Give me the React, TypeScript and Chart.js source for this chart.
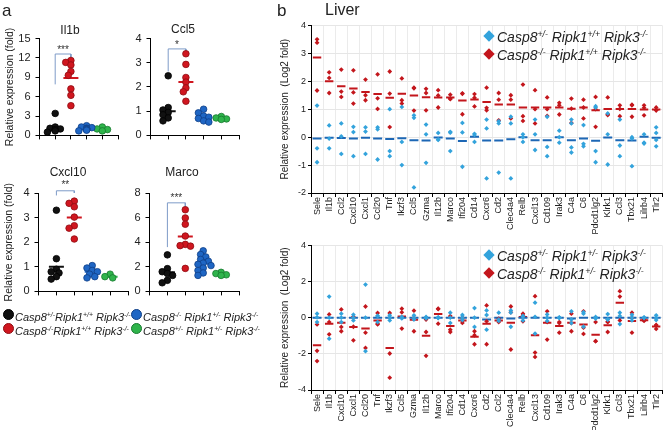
import React, { useEffect, useRef } from 'react';
import { Chart, registerables } from 'chart.js';
Chart.register(...registerables);

const FONT = "'Liberation Sans', Arial, Helvetica, sans-serif";

// ---------- Panel a data ----------
const il1bBlack = [3.4, 1.3, 1.1, 1.0, 0.9, 0.7, 0.5];
const il1bRed = [11.6, 11.3, 10.9, 9.9, 9.3, 7.2, 6.2, 4.6];
const il1bBlue = [1.5, 1.3, 1.2, 1.1, 1.0, 1.0, 0.9, 0.8, 0.7];
const il1bGreen = [1.3, 1.0, 0.9, 0.7];
const il1bMeans = [1.0, 8.9, 1.1, 0.9];
const il1bBracket = [7.9, 12.6, 11.6];

const ccl5Black = [2.46, 1.15, 1.05, 0.95, 0.85, 0.72, 0.6];
const ccl5Red = [3.37, 2.93, 2.39, 2.2, 1.96, 1.8, 1.41];
const ccl5Blue = [1.08, 0.93, 0.8, 0.75, 0.7, 0.6, 0.55];
const ccl5Green = [0.78, 0.72, 0.68, 0.66];
const ccl5Means = [1.0, 2.2, 0.77, 0.7];
const ccl5Bracket = [2.64, 3.57, 3.46];

const cxcl10Black = [3.3, 1.33, 0.9, 0.8, 0.75, 0.6, 0.5];
const cxcl10Red = [3.67, 3.58, 3.44, 3.02, 2.67, 2.57, 2.13];
const cxcl10Blue = [1.05, 0.95, 0.85, 0.8, 0.7, 0.6, 0.55];
const cxcl10Green = [0.7, 0.6, 0.55];
const cxcl10Means = [1.0, 3.0, 0.8, 0.6];
const cxcl10Bracket = [3.9, 4.09, 4.0];

const marcoBlack = [2.97, 1.85, 1.6, 1.45, 1.3, 0.9, 0.7];
const marcoRed = [6.64, 5.97, 5.46, 4.5, 3.82, 3.72, 3.68, 1.87];
const marcoBlue = [3.3, 3.0, 2.8, 2.6, 2.45, 2.3, 2.2, 2.1, 1.9, 1.7, 1.5, 1.3];
const marcoGreen = [1.55, 1.45, 1.35, 1.3];
const marcoMeans = [1.55, 4.46, 2.3, 1.4];
const marcoBracket = [3.6, 7.2, 6.8];

const legendA = [
  ['Casp8', '+/-', 'Ripk1', '+/+', ' Ripk3', '-/-'],
  ['Casp8', '-/-', 'Ripk1', '+/+', ' Ripk3', '-/-'],
  ['Casp8', '-/-', ' Ripk1', '+/-', ' Ripk3', '-/-'],
  ['Casp8', '+/-', ' Ripk1', '+/-', ' Ripk3', '-/-'],
];

// ---------- Panel b data ----------
const liverCats1 = ['Sele', 'Il1b', 'Ccl2', 'Cxcl10', 'Cxcl1', 'Ccl20', 'Tnf', 'Ikzf3', 'Ccl5', 'Gzma', 'Il12b', 'Marco', 'Ifi204', 'Cd14', 'Cxcr6', 'Cd2', 'Clec4a4', 'Relb', 'Cxcl13', 'Cd109', 'Irak3', 'C4a', 'C6', 'Pdcd1lg2', 'Klrk1', 'Ccl3', 'Tbx21', 'Lilrb4', 'Tlr2'];
const liver1Red = [
  [3.5, 3.38, 1.67], [2.32, 2.12, 1.58], [2.42, 1.63, 1.44], [2.39, 1.6, 1.2], [2.06, 1.5, 1.32],
  [2.25, 1.39, 1.01], [2.35, 1.56, 0.36], [2.1, 1.32, 1.2], [1.77, 1.75, 0.95], [1.73, 1.58, 0.96],
  [1.68, 1.49, 1.06], [1.52, 1.38, 1.36], [1.57, 1.55, 0.82], [1.54, 1.41, 1.1], [1.77, 1.05, 0.96],
  [1.58, 1.34, 0.6], [1.5, 1.34, 0.67], [1.88, 0.75, 0.58], [1.68, 1.0, 0.49], [1.42, 1.0, 0.76],
  [1.23, 1.14, 0.81], [1.38, 1.02, 0.51], [1.34, 1.06, 0.67], [1.44, 1.0, 0.37], [1.42, 0.82, 0.79],
  [1.14, 1.01, 0.75], [1.16, 1.14, 0.73], [1.14, 1.05, 0.78], [1.06, 0.96, 0.96],
];
const liver1RedMean = [2.85, 2.0, 1.82, 1.74, 1.62, 1.54, 1.41, 1.55, 1.49, 1.43, 1.42, 1.42, 1.31, 1.35, 1.26, 1.17, 1.17, 1.06, 1.06, 1.06, 1.06, 1.02, 1.06, 0.96, 1.01, 1.01, 1.01, 0.99, 0.99];
const liver1Blue = [
  [1.13, -0.4, -0.9], [0.42, -0.05, -0.4], [0.49, 0.03, -0.6], [0.37, 0.18, -0.68], [0.35, 0.2, -0.6],
  [0.35, 0.28, -0.8], [1.0, -0.5, -0.68], [1.08, -0.17, -1.0], [0.78, 0.69, -1.8], [0.45, 0.1, -0.92],
  [0.15, -0.08, -0.1], [0.19, 0.16, -0.5], [0.51, 0.17, -1.06], [0.12, 0.08, -0.17], [0.63, 0.31, -1.48],
  [0.57, 0.49, -1.27], [0.73, 0.49, -1.48], [0.1, 0.0, -0.17], [0.63, 0.1, -0.46], [0.73, -0.35, -0.68],
  [0.23, 0.0, -0.2], [0.63, 0.49, -0.37, -0.55], [0.43, -0.24, -0.33], [1.11, 1.06, -0.5, -0.9], [0.85, 0.1, -0.98],
  [0.63, -0.3, -0.68], [0.0, -0.05, -1.04], [0.1, -0.2, -0.23], [0.35, 0.15, -0.1, -0.33],
];
const liver1BlueMean = [-0.05, -0.02, -0.03, -0.05, -0.02, -0.05, -0.07, -0.04, -0.11, -0.12, -0.01, -0.05, -0.14, 0.01, -0.12, -0.12, -0.08, 0.0, -0.11, -0.11, 0.0, -0.11, -0.05, -0.13, -0.01, -0.11, -0.12, 0.01, -0.02];

const liverCats2 = ['Sele', 'Il1b', 'Cxcl10', 'Cxcl1', 'Ccl20', 'Tnf', 'Ikzf3', 'Ccl5', 'Gzma', 'Il12b', 'Marco', 'Ifi204', 'Cd14', 'Cxcr6', 'Cd2', 'Ccl2', 'Clec4a4', 'Relb', 'Cxcl13', 'Cd109', 'Irak3', 'C4a', 'C6', 'Pdcd1lg2', 'Klrk1', 'Ccl3', 'Tbx21', 'Lilrb4', 'Tlr2'];
const liver2Red = [
  [-0.37, -1.83, -2.4], [0.18, -0.24, -0.92], [0.46, -0.51, -0.75], [0.05, -0.5, -1.25], [0.62, -0.83, -1.67],
  [0.26, -0.37, -0.33], [0.26, -1.98, -3.32], [0.5, 0.3, -0.6], [0.39, -0.75, 0.0], [-0.1, -0.79, -2.11],
  [0.5, 0.48, -0.33], [0.09, -0.66, -0.79], [0.0, -0.15, -0.29], [-0.75, -0.97, -1.47], [0.68, -0.2, -1.47],
  [-0.15, -0.24, -0.05], [0.62, 0.3, -1.76], [0.22, 0.13, -0.2], [1.19, -1.93, -2.17], [0.35, -0.24, -1.21],
  [-0.24, -0.83, -0.3], [0.22, -0.3, -0.75], [0.35, -0.55, -0.9], [-0.24, -1.3, -1.3], [-0.24, -0.79, -0.22],
  [1.47, 1.17, -0.15], [0.28, -0.83, 0.0], [-0.1, -0.18, -0.05], [-0.42, -0.62, -0.4],
];
const liver2RedMean = [-1.52, -0.33, -0.28, -0.52, -0.6, -0.15, -1.67, 0.07, -0.11, -1.0, 0.2, -0.46, -0.15, -1.06, -0.33, -0.15, -0.28, 0.04, -0.97, -0.28, -0.46, -0.28, -0.37, -0.94, -0.42, 0.83, -0.18, -0.14, -0.48];
const liver2Blue = [
  [0.22, 0.02, -0.24], [1.17, 0.0, -1.16], [0.22, 0.0, -0.24], [0.17, 0.0, -0.15], [1.83, 0.0, -1.85],
  [0.1, 0.1, -0.24], [0.13, 0.02, -0.15], [0.04, 0.0, -0.04], [0.13, 0.0, -0.1], [0.04, 0.0, -0.04],
  [0.02, 0.0, -0.02], [0.28, 0.0, -0.29], [0.15, 0.0, -0.13], [0.53, 0.0, -0.51], [0.4, 0.15, -0.66],
  [0.28, -0.1, -0.18], [0.4, 0.28, -0.5], [0.1, 0.05, -0.15], [0.83, 0.05, -0.88], [0.18, 0.0, -0.18],
  [0.02, 0.0, -0.02], [0.35, -0.1, -0.3], [0.31, 0.22, -0.5], [0.04, -0.05, 0.0], [0.2, -0.1, -0.1],
  [0.28, 0.1, -0.35], [0.16, 0.0, -0.15], [0.02, 0.0, -0.02], [0.13, 0.0, -0.13],
];
const liver2BlueMean = [0, 0, 0, 0, 0, 0, 0, 0, 0, 0, 0, 0, 0, 0, -0.1, 0, -0.05, 0, 0, 0, 0, -0.05, 0, 0, 0, 0, 0, 0, 0];

const legendB1 = [
  ['Casp8', '+/-', ' Ripk1', '+/+', ' Ripk3', '-/-'],
  ['Casp8', '-/-', ' Ripk1', '+/+', ' Ripk3', '-/-'],
];
const legendB2 = [
  ['Casp8', '+/-', ' Ripk1', '+/-', ' Ripk3', '-/-'],
  ['Casp8', '-/-', ' Ripk1', '+/-', ' Ripk3', '-/-'],
];

// ---------- styles ----------
const A_FILL = ['#111111', '#d0161f', '#1f66c4', '#2fb44b'];
const A_EDGE = ['#000000', '#8e0d12', '#0f3f86', '#17792f'];
const B_BLUE = '#33a3dc';
const B_BLUE_MEAN = '#1d67b5';
const B_RED = '#c3161c';

type Rect = { L: number; T: number; W: number; H: number };
type Plot = { l: number; t: number; r: number; b: number };

function padFor(box: Rect, plot: Plot, yW: number, xH: number) {
  return {
    left: plot.l - box.L - yW,
    top: plot.t - box.T,
    right: box.L + box.W - plot.r,
    bottom: box.T + box.H - plot.b - xH,
  };
}

// beeswarm layout in pixel space (layout only, values untouched)
function swarm(vals: number[], pxPerY: number, pxPerX: number): number[] {
  const D = 4.6;
  const placed: { y: number; x: number }[] = [];
  const cands = [0, -2.6, 2.6, -5.2, 5.2, -7.8, 7.8];
  return vals.map((v) => {
    const y = v * pxPerY;
    for (const c of cands) {
      if (!placed.some((p) => Math.hypot(p.x - c, p.y - y) < D)) {
        placed.push({ x: c, y });
        return c / pxPerX;
      }
    }
    placed.push({ x: 0, y });
    return 0;
  });
}

type DotSpec = {
  box: Rect;
  plot: Plot;
  yMax: number;
  yStep: number;
  groups: number[][];
  means: number[];
  bracket: number[];
  stars: string;
  starY: number;
  yTitle: boolean;
};

function makeDot(canvas: HTMLCanvasElement, s: DotSpec) {
  const yW = 38;
  const xH = 6;
  const pxPerY = (s.plot.b - s.plot.t) / s.yMax;
  const pxPerX = (s.plot.r - s.plot.l) / 5;
  const datasets: any[] = [];
  s.groups.forEach((g, gi) => {
    const offs = swarm(g, pxPerY, pxPerX);
    datasets.push({
      data: g.map((v, i) => ({ x: gi + 1 + offs[i], y: v })),
      backgroundColor: A_FILL[gi],
      borderColor: A_EDGE[gi],
      borderWidth: 0.8,
      pointRadius: 3.3,
      showLine: false,
    });
  });
  s.means.forEach((m, gi) => {
    datasets.push({
      data: [{ x: gi + 1, y: m }],
      pointStyle: 'line',
      pointRadius: 7.5,
      borderWidth: 2,
      borderColor: A_FILL[gi],
      showLine: false,
    });
  });
  datasets.push({
    data: [
      { x: 1, y: s.bracket[0] },
      { x: 1, y: s.bracket[1] },
      { x: 2, y: s.bracket[1] },
      { x: 2, y: s.bracket[2] },
    ],
    showLine: true,
    borderColor: '#7e9bc8',
    borderWidth: 1,
    pointRadius: 0,
    clip: false,
  });
  const starPlugin = {
    id: 'stars',
    afterDatasetsDraw(chart: any) {
      const { ctx, scales } = chart;
      ctx.save();
      ctx.font = `10px ${FONT}`;
      ctx.fillStyle = '#333';
      ctx.textAlign = 'center';
      ctx.textBaseline = 'middle';
      ctx.fillText(s.stars, scales.x.getPixelForValue(1.5), scales.y.getPixelForValue(s.starY));
      ctx.restore();
    },
  };
  return new Chart(canvas, {
    type: 'scatter',
    data: { datasets },
    plugins: [starPlugin],
    options: {
      animation: false,
      responsive: false,
      devicePixelRatio: 1,
      layout: { padding: padFor(s.box, s.plot, yW, xH), autoPadding: false },
      plugins: { legend: { display: false }, tooltip: { enabled: false } },
      scales: {
        x: {
          type: 'linear',
          min: 0,
          max: 5,
          afterFit: (sc: any) => { sc.height = xH; },
          ticks: { stepSize: 1, callback: () => '', padding: 0 },
          grid: { drawOnChartArea: false, drawTicks: true, tickLength: 4, tickColor: '#000' },
          border: { display: true, color: '#000', width: 1 },
        },
        y: {
          min: 0,
          max: s.yMax,
          afterFit: (sc: any) => { sc.width = yW; },
          ticks: { stepSize: s.yStep, color: '#222', font: { family: FONT, size: 11 }, padding: 5 },
          grid: { drawOnChartArea: false, drawTicks: true, tickLength: 4, tickColor: '#000' },
          border: { display: true, color: '#000', width: 1 },
          title: {
            display: s.yTitle,
            text: 'Relative expression (fold)',
            color: '#222',
            font: { family: FONT, size: 10.5 },
            padding: { top: 2, bottom: 0 },
          },
        },
      },
    } as any,
  });
}

type LiverSpec = {
  box: Rect;
  plot: Plot;
  cats: string[];
  red: number[][];
  redMean: number[];
  blue: number[][];
  blueMean: number[];
  yMin: number;
  yMax: number;
  yStep: number;
};

function makeLiver(canvas: HTMLCanvasElement, s: LiverSpec) {
  const yW = s.plot.l - s.box.L;
  const xH = s.box.T + s.box.H - s.plot.b;
  const pts = (arr: number[][]) => s.cats.flatMap((c, i) => arr[i].map((v) => ({ x: c, y: v })));
  const means = (arr: number[]) => s.cats.map((c, i) => ({ x: c, y: arr[i] }));
  return new Chart(canvas, {
    type: 'line',
    data: {
      labels: s.cats,
      datasets: [
        { data: pts(s.blue), showLine: false, pointStyle: 'rectRot', pointRadius: 2.4, backgroundColor: B_BLUE, borderWidth: 0 },
        { data: pts(s.red), showLine: false, pointStyle: 'rectRot', pointRadius: 2.4, backgroundColor: B_RED, borderWidth: 0 },
        { data: means(s.blueMean), showLine: false, pointStyle: 'line', pointRadius: 4.5, borderWidth: 2, borderColor: B_BLUE_MEAN },
        { data: means(s.redMean), showLine: false, pointStyle: 'line', pointRadius: 4.2, borderWidth: 2, borderColor: B_RED },
      ],
    },
    options: {
      animation: false,
      responsive: false,
      devicePixelRatio: 1,
      layout: { padding: padFor(s.box, s.plot, yW, xH), autoPadding: false },
      plugins: { legend: { display: false }, tooltip: { enabled: false } },
      scales: {
        x: {
          type: 'category',
          offset: true,
          afterFit: (sc: any) => { sc.height = xH; },
          ticks: { autoSkip: false, minRotation: 90, maxRotation: 90, color: '#222', font: { family: FONT, size: 9 }, padding: 0 },
          grid: { offset: true, color: '#ebebeb', drawTicks: true, tickLength: 4, tickColor: '#000' },
          border: { display: true, color: '#000', width: 1 },
        },
        y: {
          min: s.yMin,
          max: s.yMax,
          afterFit: (sc: any) => { sc.width = yW; },
          ticks: { stepSize: s.yStep, color: '#222', font: { family: FONT, size: 9 }, padding: 2 },
          grid: { color: '#e6e6e6', drawTicks: true, tickLength: 3, tickColor: '#000' },
          border: { display: true, color: '#000', width: 1 },
          title: {
            display: true,
            text: 'Relative expression  (Log2 fold)',
            color: '#222',
            font: { family: FONT, size: 10 },
            padding: { top: 2, bottom: 0 },
          },
        },
      },
    } as any,
  });
}

function Geno({ parts, size }: { parts: string[]; size: number }) {
  return (
    <span style={{ fontStyle: 'italic', fontSize: size, whiteSpace: 'nowrap' }}>
      {parts.map((p, i) =>
        i % 2 === 0 ? (
          <span key={i}>{p}</span>
        ) : (
          <span key={i} style={{ fontSize: size * 0.62, position: 'relative', top: -size * 0.38 }}>{p}</span>
        )
      )}
    </span>
  );
}

const BOXES = {
  il1b: { L: 0, T: 16, W: 124, H: 131 },
  ccl5: { L: 110, T: 16, W: 135, H: 131 },
  cxcl10: { L: 0, T: 170, W: 134, H: 133 },
  marco: { L: 109, T: 170, W: 136, H: 133 },
  liver1: { L: 277, T: 18, W: 390, H: 218 },
  liver2: { L: 277, T: 238, W: 390, H: 192 },
};

export default function App() {
  const r1 = useRef<HTMLCanvasElement>(null);
  const r2 = useRef<HTMLCanvasElement>(null);
  const r3 = useRef<HTMLCanvasElement>(null);
  const r4 = useRef<HTMLCanvasElement>(null);
  const r5 = useRef<HTMLCanvasElement>(null);
  const r6 = useRef<HTMLCanvasElement>(null);

  useEffect(() => {
    const charts: Chart[] = [];
    charts.push(makeDot(r1.current!, {
      box: BOXES.il1b, plot: { l: 39.5, t: 38.5, r: 118, b: 139 }, yMax: 15, yStep: 3,
      groups: [il1bBlack, il1bRed, il1bBlue, il1bGreen], means: il1bMeans, bracket: il1bBracket,
      stars: '***', starY: 13.2, yTitle: true,
    }));
    charts.push(makeDot(r2.current!, {
      box: BOXES.ccl5, plot: { l: 150.5, t: 38.5, r: 239, b: 139 }, yMax: 4, yStep: 1,
      groups: [ccl5Black, ccl5Red, ccl5Blue, ccl5Green], means: ccl5Means, bracket: ccl5Bracket,
      stars: '*', starY: 3.72, yTitle: false,
    }));
    charts.push(makeDot(r3.current!, {
      box: BOXES.cxcl10, plot: { l: 38.5, t: 193, r: 128, b: 297 }, yMax: 4, yStep: 1,
      groups: [cxcl10Black, cxcl10Red, cxcl10Blue, cxcl10Green], means: cxcl10Means, bracket: cxcl10Bracket,
      stars: '**', starY: 4.3, yTitle: true,
    }));
    charts.push(makeDot(r4.current!, {
      box: BOXES.marco, plot: { l: 149.5, t: 193, r: 239, b: 297 }, yMax: 8, yStep: 2,
      groups: [marcoBlack, marcoRed, marcoBlue, marcoGreen], means: marcoMeans, bracket: marcoBracket,
      stars: '***', starY: 7.6, yTitle: false,
    }));
    charts.push(makeLiver(r5.current!, {
      box: BOXES.liver1, plot: { l: 311, t: 25, r: 665, b: 193 }, cats: liverCats1,
      red: liver1Red, redMean: liver1RedMean, blue: liver1Blue, blueMean: liver1BlueMean,
      yMin: -2, yMax: 4, yStep: 1,
    }));
    charts.push(makeLiver(r6.current!, {
      box: BOXES.liver2, plot: { l: 311, t: 245, r: 665, b: 390 }, cats: liverCats2,
      red: liver2Red, redMean: liver2RedMean, blue: liver2Blue, blueMean: liver2BlueMean,
      yMin: -4, yMax: 4, yStep: 2,
    }));
    return () => charts.forEach((c) => c.destroy());
  }, []);

  const cv = (ref: any, b: Rect) => (
    <canvas ref={ref} width={b.W} height={b.H} style={{ position: 'absolute', left: b.L, top: b.T, width: b.W, height: b.H }} />
  );
  const txt = (x: number, y: number, content: any, style: any = {}) => (
    <div style={{ position: 'absolute', left: x, top: y, lineHeight: 1, whiteSpace: 'nowrap', color: '#222', ...style }}>{content}</div>
  );
  const dot = (x: number, y: number, gi: number) => (
    <div style={{ position: 'absolute', left: x - 5, top: y - 5, width: 9, height: 9, borderRadius: '50%', background: A_FILL[gi], border: `1px solid ${A_EDGE[gi]}` }} />
  );
  const diamond = (x: number, y: number, color: string) => (
    <div style={{ position: 'absolute', left: x - 4, top: y - 4, width: 8, height: 8, background: color, transform: 'rotate(45deg)' }} />
  );

  return (
    <div style={{ position: 'absolute', left: 0, top: 0, width: 667, height: 430, background: '#fff', fontFamily: FONT, overflow: 'hidden' }}>
      {cv(r1, BOXES.il1b)}
      {cv(r2, BOXES.ccl5)}
      {cv(r3, BOXES.cxcl10)}
      {cv(r4, BOXES.marco)}
      {cv(r5, BOXES.liver1)}
      {cv(r6, BOXES.liver2)}

      {txt(2, 2, 'a', { fontSize: 17 })}
      {txt(277, 2, 'b', { fontSize: 17 })}
      {txt(325, 2, 'Liver', { fontSize: 16 })}

      {txt(70, 24, 'Il1b', { fontSize: 12, transform: 'translateX(-50%)' })}
      {txt(183, 23, 'Ccl5', { fontSize: 12, transform: 'translateX(-50%)' })}
      {txt(68, 166, 'Cxcl10', { fontSize: 12, transform: 'translateX(-50%)' })}
      {txt(182, 166, 'Marco', { fontSize: 12, transform: 'translateX(-50%)' })}

      {dot(8, 314, 0)}
      {txt(15, 308, <Geno parts={legendA[0]} size={11} />)}
      {dot(8, 328, 1)}
      {txt(15, 322, <Geno parts={legendA[1]} size={11} />)}
      {dot(136, 314, 2)}
      {txt(143, 308, <Geno parts={legendA[2]} size={11} />)}
      {dot(136, 328, 3)}
      {txt(143, 322, <Geno parts={legendA[3]} size={11} />)}

      {diamond(489, 36, B_BLUE)}
      {txt(497, 29, <Geno parts={legendB1[0]} size={14} />)}
      {diamond(489, 54, B_RED)}
      {txt(497, 47, <Geno parts={legendB1[1]} size={14} />)}
      {diamond(489, 255, B_BLUE)}
      {txt(497, 248, <Geno parts={legendB2[0]} size={14} />)}
      {diamond(489, 273, B_RED)}
      {txt(497, 266, <Geno parts={legendB2[1]} size={14} />)}
    </div>
  );
}
